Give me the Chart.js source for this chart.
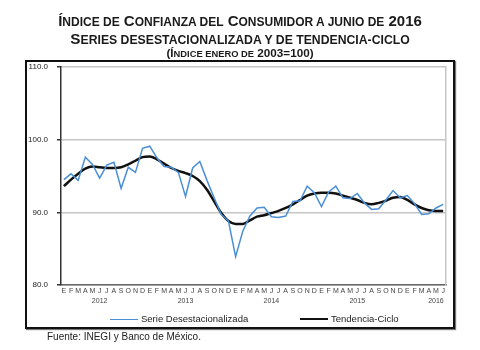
<!DOCTYPE html>
<html>
<head>
<meta charset="utf-8">
<script src="https://cdn.jsdelivr.net/npm/chart.js@4"></script>
<style>
  html, body { margin: 0; padding: 0; background: #fff; }
  #wrap { position: relative; width: 480px; height: 350px; overflow: hidden; font-family: "Liberation Sans", Arial, sans-serif; color: #1a1a1a; }
  #chart { position: absolute; left: 0; top: 0; }
  .title { position: absolute; left: 0; width: 480px; text-align: center; font-weight: bold; white-space: nowrap; line-height: 1; }
  .title .sc { font-size: 0.8em; text-transform: uppercase; }
  #t1 { top: 13px; font-size: 15px; }
  #t2 { top: 31px; font-size: 15.3px; }
  #t3 { top: 47px; font-size: 11.7px; }
  #box { position: absolute; left: 25px; top: 60px; width: 426px; height: 265px; border: 2px solid #111; box-shadow: 1px 1px 1px #777; }
  .leg { position: absolute; top: 313px; font-size: 9.5px; color: #222; white-space: nowrap; }
  .leg i { display: inline-block; width: 28px; vertical-align: middle; margin-right: 3px; }
  #source { position: absolute; left: 47px; top: 331px; font-size: 10px; color: #222; }
</style>
</head>
<body>
<div id="wrap">
  <div id="box"></div>
  <canvas id="chart" width="480" height="350"></canvas>
  <div class="title" id="t1">Í<span class="sc">ndice de</span> C<span class="sc">onfianza del</span> C<span class="sc">onsumidor a junio de</span> 2016</div>
  <div class="title" id="t2">S<span class="sc">eries desestacionalizada y de tendencia-ciclo</span></div>
  <div class="title" id="t3">(Í<span class="sc">ndice enero de</span> 2003=100)</div>
  <div class="leg" style="left:110px"><i style="border-top:1.5px solid #4a8fd6"></i>Serie Desestacionalizada</div>
  <div class="leg" style="left:300px"><i style="border-top:2.5px solid #111"></i>Tendencia-Ciclo</div>
  <div id="source">Fuente: INEGI y Banco de México.</div>
</div>
<script>
// Meses de enero 2012 a junio 2016
const monthLetters = ['E','F','M','A','M','J','J','A','S','O','N','D'];
const years = ['2012', '2013', '2014', '2015', '2016'];
const yearTickIndex = [5, 17, 29, 41, 52];
const yTicks = [80, 90, 100, 110];

const serieDesest = [
  94.5, 95.3, 94.4, 97.6, 96.6, 94.7, 96.5, 96.9, 93.3, 96.2, 95.5, 98.8,
  99.1, 97.5, 96.3, 96.2, 95.5, 92.2, 96.1, 97.0, 94.4, 92.0, 89.7, 88.8,
  83.9, 87.4, 89.5, 90.6, 90.7, 89.4, 89.3, 89.5, 91.5, 91.6, 93.6, 92.7,
  90.8, 92.8, 93.6, 92.0, 91.9, 92.6, 91.3, 90.4, 90.5, 91.7, 93.0, 92.0,
  92.3, 91.2, 89.7, 89.8, 90.6, 91.1
];
const tendenciaCiclo = [
  93.6, 94.5, 95.3, 96.0, 96.3, 96.2, 96.1, 96.1, 96.2, 96.6, 97.1, 97.6,
  97.7, 97.3, 96.7, 96.1, 95.7, 95.4, 95.0, 94.3, 93.1, 91.5, 89.9, 88.8,
  88.4, 88.4, 88.9, 89.4, 89.6, 89.9, 90.2, 90.6, 91.1, 91.7, 92.3, 92.6,
  92.7, 92.7, 92.6, 92.3, 92.0, 91.7, 91.3, 91.1, 91.3, 91.6, 92.0, 92.1,
  91.7, 91.1, 90.6, 90.3, 90.2, 90.2
];

const toPoints = arr => arr.map((v, i) => ({ x: i, y: v }));

function monthLabel(i) {
  const k = yearTickIndex.indexOf(i);
  return [monthLetters[i % 12], k >= 0 ? years[k] : ''];
}

new Chart(document.getElementById('chart'), {
  type: 'line',
  data: {
    datasets: [
      {
        label: 'Serie Desestacionalizada',
        data: toPoints(serieDesest),
        borderColor: '#4a8fd6',
        borderWidth: 1.5,
        pointRadius: 0,
        tension: 0
      },
      {
        label: 'Tendencia-Ciclo',
        data: toPoints(tendenciaCiclo),
        borderColor: '#111',
        borderWidth: 2.5,
        pointRadius: 0,
        cubicInterpolationMode: 'monotone'
      }
    ]
  },
  options: {
    responsive: false,
    animation: false,
    layout: { padding: { left: 0, top: 67, right: 34, bottom: 43 } },
    plugins: { legend: { display: false }, tooltip: { enabled: false } },
    scales: {
      x: {
        type: 'linear',
        min: -0.4,
        max: serieDesest.length - 1 + 0.4,
        afterBuildTicks: scale => { scale.ticks = serieDesest.map((_, i) => ({ value: i })); },
        afterFit: scale => { scale.height = 22; },
        grid: { display: false, drawTicks: false },
        border: { color: '#666', width: 1.5 },
        ticks: {
          autoSkip: false,
          maxRotation: 0,
          padding: 2,
          color: '#444',
          font: { family: 'Liberation Sans', size: 7, lineHeight: 1.3 },
          callback: v => monthLabel(v)
        }
      },
      y: {
        min: 80,
        max: 110,
        afterBuildTicks: scale => { scale.ticks = yTicks.map(v => ({ value: v })); },
        afterFit: scale => { scale.width = 61; },
        grid: { color: '#c6c6c6', lineWidth: 1.5, tickColor: '#333', tickLength: 4 },
        border: { color: '#333', width: 1.5 },
        ticks: {
          padding: 9,
          color: '#222',
          font: { family: 'Liberation Sans', size: 8 },
          callback: v => v.toFixed(1)
        }
      },
      y2: {
        position: 'right',
        min: 80,
        max: 110,
        afterFit: scale => { scale.width = 0; },
        grid: { display: false },
        border: { color: '#c6c6c6', width: 1.5 },
        ticks: { display: false }
      }
    }
  }
});
</script>
</body>
</html>
